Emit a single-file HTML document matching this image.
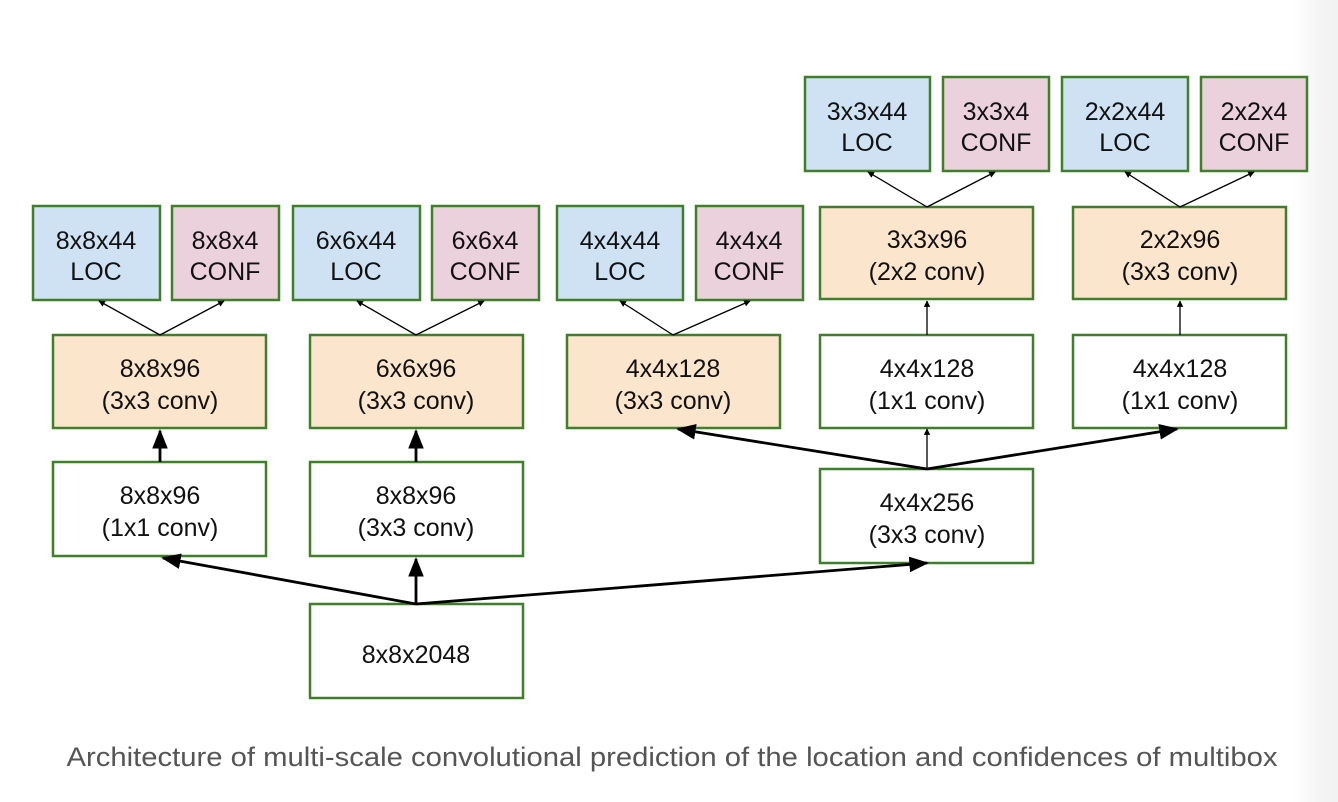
<!DOCTYPE html>
<html><head><meta charset="utf-8"><style>
html,body{margin:0;padding:0;background:#fff;}
body{width:1338px;height:802px;overflow:hidden;position:relative;}
.strip{position:absolute;right:0;top:0;width:45px;height:802px;background:linear-gradient(to right,#fff,#f4f4f4 60%,#f2f2f2);}
svg{position:absolute;left:0;top:0;}
text{font-family:"Liberation Sans",Arial,sans-serif;font-size:25px;fill:#111;text-anchor:middle;}
</style></head><body>
<div class="strip"></div>
<svg width="1338" height="802" viewBox="0 0 1338 802">
<defs>
<marker id="a" viewBox="0 0 10 10" refX="9" refY="5" markerWidth="5" markerHeight="5" orient="auto"><path d="M0,0L10,5L0,10z" fill="#000"/></marker>
<marker id="s" viewBox="0 0 10 10" refX="9" refY="5" markerWidth="7" markerHeight="7" orient="auto"><path d="M0,1L10,5L0,9z" fill="#000"/></marker>
</defs>
<g stroke="#3f7f2a" stroke-width="2.5">
<rect x="805" y="77" width="125" height="94" fill="#cfe2f3"/>
<rect x="943" y="77" width="106" height="94" fill="#ead1dc"/>
<rect x="1062" y="77" width="126" height="94" fill="#cfe2f3"/>
<rect x="1201" y="77" width="106" height="94" fill="#ead1dc"/>
<rect x="33" y="206" width="127" height="94" fill="#cfe2f3"/>
<rect x="172" y="206" width="107" height="94" fill="#ead1dc"/>
<rect x="293" y="206" width="127" height="94" fill="#cfe2f3"/>
<rect x="432" y="206" width="107" height="94" fill="#ead1dc"/>
<rect x="557" y="206" width="126" height="94" fill="#cfe2f3"/>
<rect x="696" y="206" width="107" height="94" fill="#ead1dc"/>
<rect x="820" y="207" width="213" height="92" fill="#fce5cd"/>
<rect x="1073" y="207" width="213" height="92" fill="#fce5cd"/>
<rect x="53" y="335" width="213" height="93" fill="#fce5cd"/>
<rect x="310" y="335" width="213" height="93" fill="#fce5cd"/>
<rect x="567" y="335" width="213" height="93" fill="#fce5cd"/>
<rect x="820" y="335" width="213" height="93" fill="#fff"/>
<rect x="1073" y="335" width="213" height="93" fill="#fff"/>
<rect x="53" y="462" width="213" height="94" fill="#fff"/>
<rect x="310" y="462" width="213" height="94" fill="#fff"/>
<rect x="820" y="469" width="213" height="94" fill="#fff"/>
<rect x="310" y="604" width="213" height="94" fill="#fff"/>
</g>
<g stroke="#000" stroke-width="1.3" fill="none" marker-end="url(#a)">
<line x1="160" y1="335" x2="99" y2="301"/><line x1="160" y1="335" x2="224" y2="301"/>
<line x1="416" y1="335" x2="357" y2="301"/><line x1="416" y1="335" x2="484" y2="301"/>
<line x1="673" y1="335" x2="620" y2="301"/><line x1="673" y1="335" x2="750" y2="301"/>
<line x1="927" y1="207" x2="868" y2="172"/><line x1="927" y1="207" x2="995" y2="172"/>
<line x1="1180" y1="207" x2="1125" y2="172"/><line x1="1180" y1="207" x2="1254" y2="172"/>
<line x1="927" y1="335" x2="927" y2="301"/>
<line x1="1180" y1="335" x2="1180" y2="301"/>
<line x1="927" y1="469" x2="927" y2="429"/>
</g>
<g stroke="#000" stroke-width="2.8" fill="none" marker-end="url(#s)">
<line x1="160" y1="462" x2="160" y2="431"/>
<line x1="416" y1="462" x2="416" y2="431"/>
<line x1="416" y1="604" x2="416" y2="559"/>
<line x1="416" y1="604" x2="163" y2="558"/>
<line x1="416" y1="604" x2="927" y2="563"/>
<line x1="927" y1="469" x2="678" y2="429"/>
<line x1="927" y1="469" x2="1177" y2="429"/>
</g>
<g>
<text x="867" y="120">3x3x44</text><text x="867" y="151">LOC</text>
<text x="996" y="120">3x3x4</text><text x="996" y="151">CONF</text>
<text x="1125" y="120">2x2x44</text><text x="1125" y="151">LOC</text>
<text x="1254" y="120">2x2x4</text><text x="1254" y="151">CONF</text>
<text x="96" y="249">8x8x44</text><text x="96" y="280">LOC</text>
<text x="225" y="249">8x8x4</text><text x="225" y="280">CONF</text>
<text x="356" y="249">6x6x44</text><text x="356" y="280">LOC</text>
<text x="485" y="249">6x6x4</text><text x="485" y="280">CONF</text>
<text x="620" y="249">4x4x44</text><text x="620" y="280">LOC</text>
<text x="749" y="249">4x4x4</text><text x="749" y="280">CONF</text>
<text x="927" y="248">3x3x96</text><text x="927" y="280">(2x2 conv)</text>
<text x="1180" y="248">2x2x96</text><text x="1180" y="280">(3x3 conv)</text>
<text x="160" y="377">8x8x96</text><text x="160" y="409">(3x3 conv)</text>
<text x="416" y="377">6x6x96</text><text x="416" y="409">(3x3 conv)</text>
<text x="673" y="377">4x4x128</text><text x="673" y="409">(3x3 conv)</text>
<text x="927" y="377">4x4x128</text><text x="927" y="409">(1x1 conv)</text>
<text x="1180" y="377">4x4x128</text><text x="1180" y="409">(1x1 conv)</text>
<text x="160" y="504">8x8x96</text><text x="160" y="536">(1x1 conv)</text>
<text x="416" y="504">8x8x96</text><text x="416" y="536">(3x3 conv)</text>
<text x="927" y="511">4x4x256</text><text x="927" y="543">(3x3 conv)</text>
<text x="416" y="663">8x8x2048</text>
<text x="672" y="766" style="font-size:27px;fill:#555" textLength="1211" lengthAdjust="spacingAndGlyphs">Architecture of multi-scale convolutional prediction of the location and confidences of multibox</text>
</g>
</svg>
</body></html>
